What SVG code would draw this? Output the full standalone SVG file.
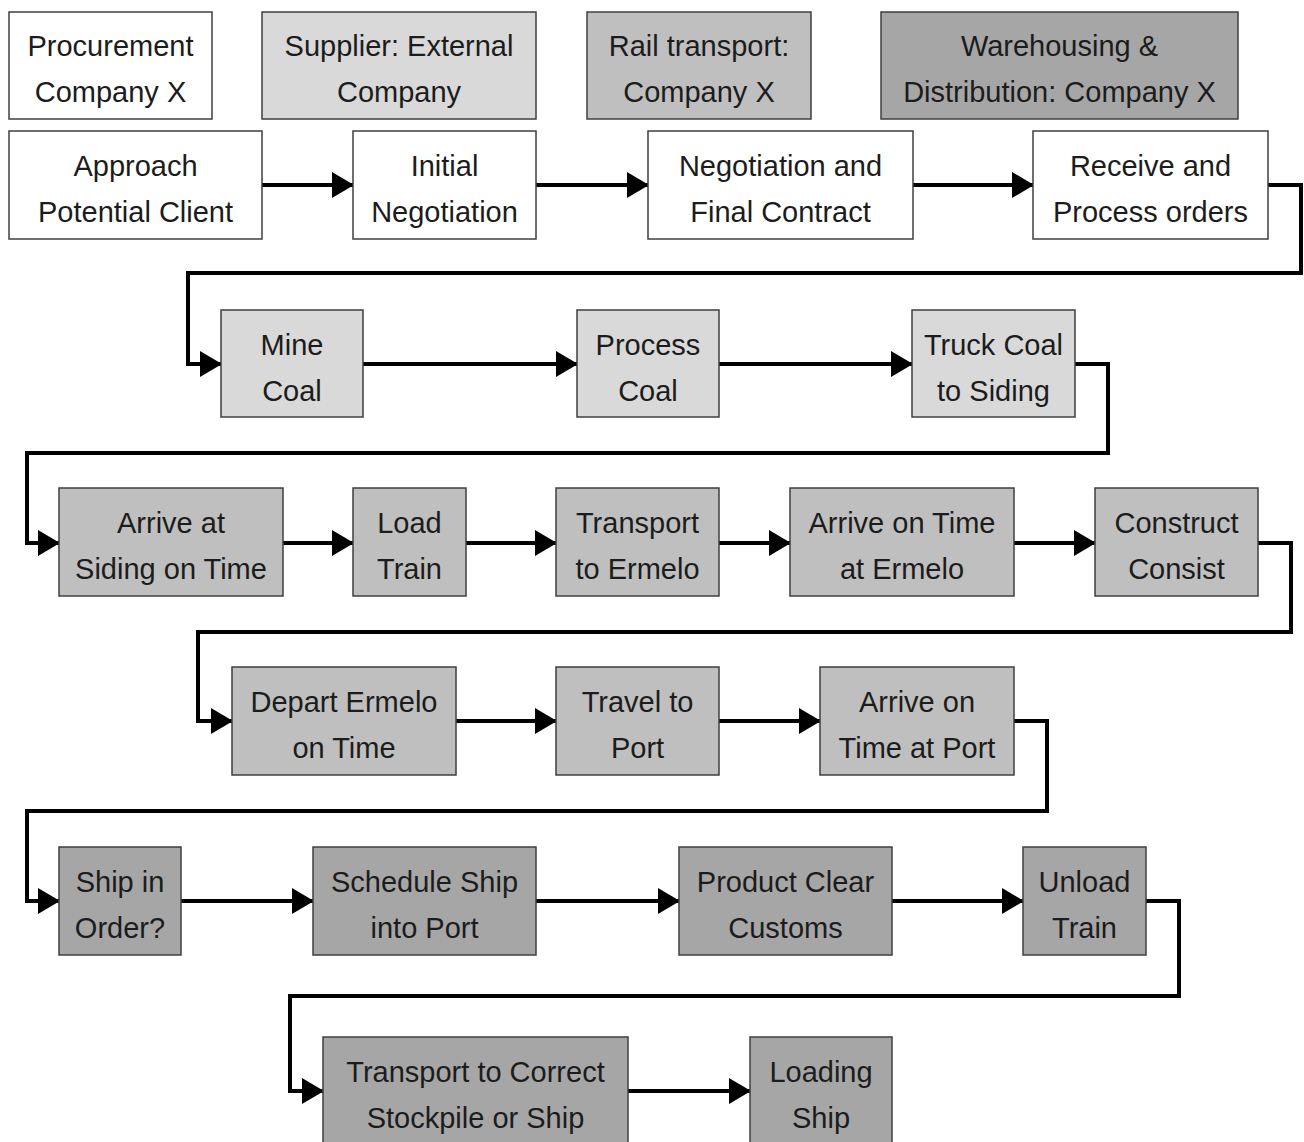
<svg xmlns="http://www.w3.org/2000/svg" width="1304" height="1142" viewBox="0 0 1304 1142">
  <style>
    .box rect { stroke: #3f3f3f; stroke-width: 1.5; }
    .w rect { fill: #ffffff; }
    .l rect { fill: #d9d9d9; }
    .m rect { fill: #bfbfbf; }
    .d rect { fill: #a6a6a6; }
    text { font-family: "Liberation Sans", Arial, sans-serif; font-size: 29px; fill: #1c1c1c; text-anchor: middle; }
    .conn path { fill: none; stroke: #000000; stroke-width: 4; stroke-linejoin: miter; }
  </style>
  <defs>
    <!-- arrow tip sits exactly on the end of each connector path -->
    <marker id="head" viewBox="0 0 22 26" refX="21" refY="13" markerWidth="22" markerHeight="26" markerUnits="userSpaceOnUse" orient="auto">
      <path d="M0,0 L22,13 L0,26 Z" fill="#000000"/>
    </marker>
  </defs>
  <rect width="1304" height="1142" fill="#ffffff"/>

  <!-- legend -->
  <g id="legend-procurement" class="box w"><rect x="9" y="12" width="203" height="107"/><text x="110.5" y="56">Procurement</text><text x="110.5" y="102">Company X</text></g>
  <g id="legend-supplier" class="box l"><rect x="262" y="12" width="274" height="107"/><text x="399" y="56">Supplier: External</text><text x="399" y="102">Company</text></g>
  <g id="legend-rail" class="box m"><rect x="587" y="12" width="224" height="107"/><text x="699" y="56">Rail transport:</text><text x="699" y="102">Company X</text></g>
  <g id="legend-warehousing" class="box d"><rect x="881" y="12" width="357" height="107"/><text x="1059.5" y="56">Warehousing &amp;</text><text x="1059.5" y="102">Distribution: Company X</text></g>

  <!-- connectors -->
  <g id="connectors" class="conn">
    <path d="M262,185 H353" marker-end="url(#head)"/>
    <path d="M536,185 H648" marker-end="url(#head)"/>
    <path d="M913,185 H1033" marker-end="url(#head)"/>
    <path d="M1268,185 H1301 V273 H188 V364 H221" marker-end="url(#head)"/>
    <path d="M363,364 H577" marker-end="url(#head)"/>
    <path d="M719,364 H912" marker-end="url(#head)"/>
    <path d="M1075,364 H1108 V453 H27 V543 H59" marker-end="url(#head)"/>
    <path d="M283,543 H353" marker-end="url(#head)"/>
    <path d="M466,543 H556" marker-end="url(#head)"/>
    <path d="M719,543 H790" marker-end="url(#head)"/>
    <path d="M1014,543 H1095" marker-end="url(#head)"/>
    <path d="M1258,543 H1291 V632 H198 V721 H232" marker-end="url(#head)"/>
    <path d="M456,721 H556" marker-end="url(#head)"/>
    <path d="M719,721 H820" marker-end="url(#head)"/>
    <path d="M1014,721 H1047 V811 H27 V901 H59" marker-end="url(#head)"/>
    <path d="M181,901 H313" marker-end="url(#head)"/>
    <path d="M536,901 H679" marker-end="url(#head)"/>
    <path d="M892,901 H1023" marker-end="url(#head)"/>
    <path d="M1146,901 H1179 V996 H290 V1091 H323" marker-end="url(#head)"/>
    <path d="M628,1091 H750" marker-end="url(#head)"/>
  </g>

  <!-- procurement steps -->
  <g id="approach" class="box w"><rect x="9" y="131" width="253" height="108"/><text x="135.5" y="176">Approach</text><text x="135.5" y="222">Potential Client</text></g>
  <g id="initial-negotiation" class="box w"><rect x="353" y="131" width="183" height="108"/><text x="444.5" y="176">Initial</text><text x="444.5" y="222">Negotiation</text></g>
  <g id="final-contract" class="box w"><rect x="648" y="131" width="265" height="108"/><text x="780.5" y="176">Negotiation and</text><text x="780.5" y="222">Final Contract</text></g>
  <g id="receive-orders" class="box w"><rect x="1033" y="131" width="235" height="108"/><text x="1150.5" y="176">Receive and</text><text x="1150.5" y="222">Process orders</text></g>

  <!-- supplier steps -->
  <g id="mine-coal" class="box l"><rect x="221" y="310" width="142" height="107"/><text x="292" y="355">Mine</text><text x="292" y="401">Coal</text></g>
  <g id="process-coal" class="box l"><rect x="577" y="310" width="142" height="107"/><text x="648" y="355">Process</text><text x="648" y="401">Coal</text></g>
  <g id="truck-coal" class="box l"><rect x="912" y="310" width="163" height="107"/><text x="993.5" y="355">Truck Coal</text><text x="993.5" y="401">to Siding</text></g>

  <!-- rail steps -->
  <g id="arrive-siding" class="box m"><rect x="59" y="488" width="224" height="108"/><text x="171" y="533">Arrive at</text><text x="171" y="579">Siding on Time</text></g>
  <g id="load-train" class="box m"><rect x="353" y="488" width="113" height="108"/><text x="409.5" y="533">Load</text><text x="409.5" y="579">Train</text></g>
  <g id="transport-ermelo" class="box m"><rect x="556" y="488" width="163" height="108"/><text x="637.5" y="533">Transport</text><text x="637.5" y="579">to Ermelo</text></g>
  <g id="arrive-ermelo" class="box m"><rect x="790" y="488" width="224" height="108"/><text x="902" y="533">Arrive on Time</text><text x="902" y="579">at Ermelo</text></g>
  <g id="construct-consist" class="box m"><rect x="1095" y="488" width="163" height="108"/><text x="1176.5" y="533">Construct</text><text x="1176.5" y="579">Consist</text></g>
  <g id="depart-ermelo" class="box m"><rect x="232" y="667" width="224" height="108"/><text x="344" y="712">Depart Ermelo</text><text x="344" y="758">on Time</text></g>
  <g id="travel-port" class="box m"><rect x="556" y="667" width="163" height="108"/><text x="637.5" y="712">Travel to</text><text x="637.5" y="758">Port</text></g>
  <g id="arrive-port" class="box m"><rect x="820" y="667" width="194" height="108"/><text x="917" y="712">Arrive on</text><text x="917" y="758">Time at Port</text></g>

  <!-- warehousing steps -->
  <g id="ship-in-order" class="box d"><rect x="59" y="847" width="122" height="108"/><text x="120" y="892">Ship in</text><text x="120" y="938">Order?</text></g>
  <g id="schedule-ship" class="box d"><rect x="313" y="847" width="223" height="108"/><text x="424.5" y="892">Schedule Ship</text><text x="424.5" y="938">into Port</text></g>
  <g id="clear-customs" class="box d"><rect x="679" y="847" width="213" height="108"/><text x="785.5" y="892">Product Clear</text><text x="785.5" y="938">Customs</text></g>
  <g id="unload-train" class="box d"><rect x="1023" y="847" width="123" height="108"/><text x="1084.5" y="892">Unload</text><text x="1084.5" y="938">Train</text></g>
  <g id="transport-stockpile" class="box d"><rect x="323" y="1037" width="305" height="110"/><text x="475.5" y="1082">Transport to Correct</text><text x="475.5" y="1128">Stockpile or Ship</text></g>
  <g id="loading-ship" class="box d"><rect x="750" y="1037" width="142" height="110"/><text x="821" y="1082">Loading</text><text x="821" y="1128">Ship</text></g>
</svg>
